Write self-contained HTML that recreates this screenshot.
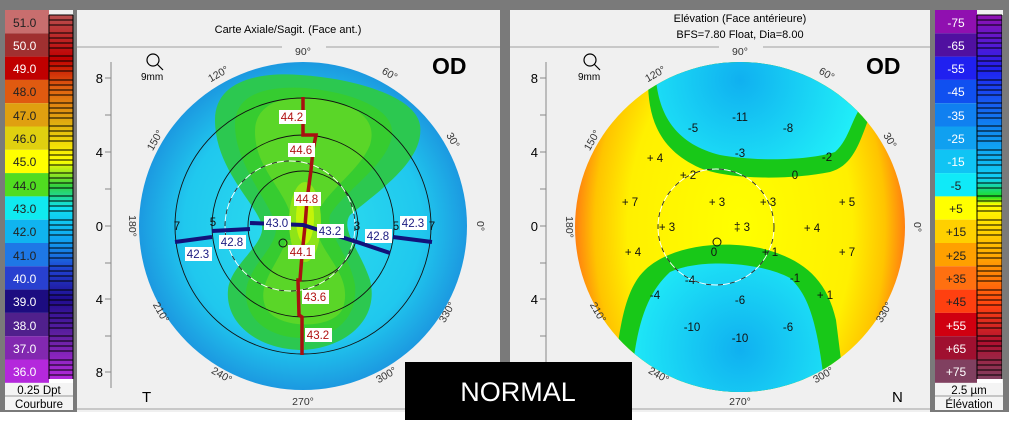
<!DOCTYPE html>
<html><head><meta charset="utf-8">
<style>
html,body{margin:0;padding:0;background:#fff;}
svg{display:block;font-family:"Liberation Sans",sans-serif;}
</style></head>
<body>
<svg width="1009" height="436" viewBox="0 0 1009 436" xmlns="http://www.w3.org/2000/svg">
<defs>
<radialGradient id="gb" cx="303" cy="226" r="165" gradientUnits="userSpaceOnUse">
<stop offset="0" stop-color="#2ee0ee"/><stop offset="0.72" stop-color="#20c8ee"/><stop offset="1" stop-color="#1c98e0"/>
</radialGradient>
<radialGradient id="gy" cx="740" cy="227" r="165" gradientUnits="userSpaceOnUse" gradientTransform="translate(740 227) scale(1 1.6) translate(-740 -227)">
<stop offset="0" stop-color="#ffff00"/><stop offset="0.68" stop-color="#fff000"/><stop offset="0.88" stop-color="#ffc400"/><stop offset="1" stop-color="#ff8010"/>
</radialGradient>
<radialGradient id="gc" cx="740" cy="80" r="120" gradientUnits="userSpaceOnUse">
<stop offset="0" stop-color="#10b0f0"/><stop offset="1" stop-color="#20eef8"/>
</radialGradient>
<radialGradient id="gc2" cx="740" cy="350" r="120" gradientUnits="userSpaceOnUse">
<stop offset="0" stop-color="#10b0f0"/><stop offset="1" stop-color="#20eef8"/>
</radialGradient>
<clipPath id="cl"><circle cx="303" cy="226" r="164"/></clipPath>
<clipPath id="cr"><circle cx="740" cy="227" r="165"/></clipPath>
<linearGradient id="lsg" x1="0" y1="15" x2="0" y2="379" gradientUnits="userSpaceOnUse">
<stop offset="0" stop-color="#b85050"/><stop offset="0.12" stop-color="#c00000"/><stop offset="0.2" stop-color="#e06010"/><stop offset="0.3" stop-color="#e0b010"/><stop offset="0.4" stop-color="#ffff00"/><stop offset="0.47" stop-color="#30d040"/><stop offset="0.53" stop-color="#10e0f0"/><stop offset="0.62" stop-color="#10a0f0"/><stop offset="0.7" stop-color="#2040d0"/><stop offset="0.78" stop-color="#200c90"/><stop offset="0.88" stop-color="#6020a0"/><stop offset="1" stop-color="#b428dc"/>
</linearGradient>
<linearGradient id="rsg" x1="0" y1="15" x2="0" y2="379" gradientUnits="userSpaceOnUse">
<stop offset="0" stop-color="#9010b0"/><stop offset="0.15" stop-color="#2020f0"/><stop offset="0.3" stop-color="#1080f0"/><stop offset="0.45" stop-color="#10d0f4"/><stop offset="0.5" stop-color="#20e020"/><stop offset="0.52" stop-color="#ffff00"/><stop offset="0.65" stop-color="#ffb000"/><stop offset="0.8" stop-color="#ff4010"/><stop offset="0.9" stop-color="#b01030"/><stop offset="1" stop-color="#804060"/>
</linearGradient>
</defs>

<rect x="0" y="0" width="1009" height="412" fill="#7a7a7a"/>
<rect x="0" y="412" width="1009" height="24" fill="#fff"/>
<rect x="77" y="10" width="423" height="402" fill="#f0f0f0"/>
<rect x="510" y="10" width="420" height="402" fill="#f0f0f0"/>
<line x1="77" y1="47" x2="500" y2="47" stroke="#a0a0a0"/>
<line x1="510" y1="47" x2="930" y2="47" stroke="#a0a0a0"/>
<line x1="77" y1="409" x2="500" y2="409" stroke="#a0a0a0"/>
<line x1="510" y1="409" x2="930" y2="409" stroke="#a0a0a0"/>

<!-- left scale -->
<rect x="5" y="10" width="68" height="400" fill="#f0f0f0"/>
<g font-size="12">
<rect x="5" y="10" width="44" height="23.3" fill="#c86e6e"/><text x="13" y="27" fill="#222">51.0</text>
<rect x="5" y="33.3" width="44" height="23.3" fill="#a03030"/><text x="13" y="50" fill="#fff">50.0</text>
<rect x="5" y="56.6" width="44" height="23.3" fill="#c00000"/><text x="13" y="73" fill="#fff">49.0</text>
<rect x="5" y="79.9" width="44" height="23.3" fill="#e05a10"/><text x="13" y="96" fill="#222">48.0</text>
<rect x="5" y="103.2" width="44" height="23.3" fill="#e0a010"/><text x="13" y="120" fill="#222">47.0</text>
<rect x="5" y="126.5" width="44" height="23.3" fill="#e0d010"/><text x="13" y="143" fill="#222">46.0</text>
<rect x="5" y="149.8" width="44" height="23.3" fill="#ffff00"/><text x="13" y="166" fill="#222">45.0</text>
<rect x="5" y="173.1" width="44" height="23.3" fill="#50dc20"/><text x="13" y="190" fill="#222">44.0</text>
<rect x="5" y="196.4" width="44" height="23.3" fill="#10eaf0"/><text x="13" y="213" fill="#222">43.0</text>
<rect x="5" y="219.7" width="44" height="23.3" fill="#10b4f0"/><text x="13" y="236" fill="#222">42.0</text>
<rect x="5" y="243" width="44" height="23.3" fill="#1e78e6"/><text x="13" y="260" fill="#222">41.0</text>
<rect x="5" y="266.3" width="44" height="23.3" fill="#2840d0"/><text x="13" y="283" fill="#fff">40.0</text>
<rect x="5" y="289.6" width="44" height="23.3" fill="#1c0c80"/><text x="13" y="306" fill="#fff">39.0</text>
<rect x="5" y="312.9" width="44" height="23.3" fill="#50208c"/><text x="13" y="330" fill="#fff">38.0</text>
<rect x="5" y="336.2" width="44" height="23.3" fill="#8228b0"/><text x="13" y="353" fill="#fff">37.0</text>
<rect x="5" y="359.5" width="44" height="23.3" fill="#b428dc"/><text x="13" y="376" fill="#fff">36.0</text>
</g>
<rect x="49" y="15" width="24" height="364" fill="url(#lsg)"/>
<g stroke="#000" stroke-width="1">
<path d="M49 15H73M49 20H73M49 25H73M49 33H73M49 38H73M49 43H73M49 48H73M49 56H73M49 61H73M49 66H73M49 71H73M49 80H73M49 85H73M49 90H73M49 95H73M49 103H73M49 108H73M49 113H73M49 118H73M49 126H73M49 131H73M49 136H73M49 141H73M49 150H73M49 155H73M49 160H73M49 165H73M49 173H73M49 178H73M49 183H73M49 188H73M49 196H73M49 201H73M49 206H73M49 211H73M49 220H73M49 225H73M49 230H73M49 235H73M49 243H73M49 248H73M49 253H73M49 258H73M49 266H73M49 271H73M49 276H73M49 281H73M49 290H73M49 295H73M49 300H73M49 305H73M49 313H73M49 318H73M49 323H73M49 328H73M49 336H73M49 341H73M49 346H73M49 351H73M49 360H73M49 365H73M49 370H73M49 375H73M49 15V379M73 15V379"/>
</g>
<rect x="49" y="379" width="24" height="4" fill="#fff"/>
<rect x="5" y="383" width="68" height="27" fill="#f4f4f4"/>
<line x1="5" y1="396" x2="73" y2="396" stroke="#999"/>
<text x="39" y="394" font-size="11.5" text-anchor="middle">0.25 Dpt</text>
<text x="39" y="408" font-size="11.5" text-anchor="middle">Courbure</text>

<!-- right scale -->
<rect x="935" y="10" width="68" height="400" fill="#f0f0f0"/>
<g font-size="12" text-anchor="middle">
<rect x="935" y="10" width="42" height="23.3" fill="#9010b0"/><text x="956" y="27" fill="#fff">-75</text>
<rect x="935" y="33.3" width="42" height="23.3" fill="#5010a0"/><text x="956" y="50" fill="#fff">-65</text>
<rect x="935" y="56.6" width="42" height="23.3" fill="#2020f0"/><text x="956" y="73" fill="#fff">-55</text>
<rect x="935" y="79.9" width="42" height="23.3" fill="#1050f0"/><text x="956" y="96" fill="#fff">-45</text>
<rect x="935" y="103.2" width="42" height="23.3" fill="#1080f0"/><text x="956" y="120" fill="#fff">-35</text>
<rect x="935" y="126.5" width="42" height="23.3" fill="#10a0f0"/><text x="956" y="143" fill="#fff">-25</text>
<rect x="935" y="149.8" width="42" height="23.3" fill="#10c4f4"/><text x="956" y="166" fill="#fff">-15</text>
<rect x="935" y="173.1" width="42" height="23.3" fill="#10eaf8"/><text x="956" y="190" fill="#222">-5</text>
<rect x="935" y="196.4" width="42" height="23.3" fill="#ffff00"/><text x="956" y="213" fill="#222">+5</text>
<rect x="935" y="219.7" width="42" height="23.3" fill="#ffd000"/><text x="956" y="236" fill="#222">+15</text>
<rect x="935" y="243" width="42" height="23.3" fill="#ffa000"/><text x="956" y="260" fill="#222">+25</text>
<rect x="935" y="266.3" width="42" height="23.3" fill="#ff7010"/><text x="956" y="283" fill="#222">+35</text>
<rect x="935" y="289.6" width="42" height="23.3" fill="#ff4010"/><text x="956" y="306" fill="#222">+45</text>
<rect x="935" y="312.9" width="42" height="23.3" fill="#d00010"/><text x="956" y="330" fill="#fff">+55</text>
<rect x="935" y="336.2" width="42" height="23.3" fill="#a01030"/><text x="956" y="353" fill="#fff">+65</text>
<rect x="935" y="359.5" width="42" height="23.3" fill="#804060"/><text x="956" y="376" fill="#fff">+75</text>
</g>
<rect x="977" y="15" width="25" height="364" fill="url(#rsg)"/>
<g stroke="#000" stroke-width="1" transform="translate(928 0)">
<path d="M49 15H74M49 20H74M49 25H74M49 33H74M49 38H74M49 43H74M49 48H74M49 56H74M49 61H74M49 66H74M49 71H74M49 80H74M49 85H74M49 90H74M49 95H74M49 103H74M49 108H74M49 113H74M49 118H74M49 126H74M49 131H74M49 136H74M49 141H74M49 150H74M49 155H74M49 160H74M49 165H74M49 173H74M49 178H74M49 183H74M49 188H74M49 196H74M49 201H74M49 206H74M49 211H74M49 220H74M49 225H74M49 230H74M49 235H74M49 243H74M49 248H74M49 253H74M49 258H74M49 266H74M49 271H74M49 276H74M49 281H74M49 290H74M49 295H74M49 300H74M49 305H74M49 313H74M49 318H74M49 323H74M49 328H74M49 336H74M49 341H74M49 346H74M49 351H74M49 360H74M49 365H74M49 370H74M49 375H74M49 15V379M74 15V379"/>
</g>
<rect x="977" y="379" width="25" height="4" fill="#fff"/>
<rect x="935" y="383" width="68" height="27" fill="#f4f4f4"/>
<line x1="935" y1="396" x2="1003" y2="396" stroke="#999"/>
<text x="969" y="394" font-size="11.5" text-anchor="middle">2.5 µm</text>
<text x="969" y="408" font-size="11.5" text-anchor="middle">Élévation</text>

<!-- titles -->
<text x="288" y="33" font-size="11" text-anchor="middle">Carte Axiale/Sagit. (Face ant.)</text>
<text x="740" y="22" font-size="11" text-anchor="middle">Elévation (Face antérieure)</text>
<text x="740" y="38" font-size="11" text-anchor="middle">BFS=7.80 Float, Dia=8.00</text>
<rect x="282" y="42" width="44" height="10" fill="#f0f0f0"/>
<rect x="719" y="42" width="44" height="10" fill="#f0f0f0"/>
<text x="432" y="74" font-size="23" font-weight="bold">OD</text>
<text x="866" y="74" font-size="23" font-weight="bold">OD</text>
<text x="142" y="402" font-size="15">T</text>
<text x="892" y="402" font-size="15">N</text>
<g fill="none" stroke="#000" stroke-width="1.2">
<circle cx="153" cy="60" r="6"/><line x1="157" y1="64" x2="163" y2="70"/>
<circle cx="590" cy="60" r="6"/><line x1="594" y1="64" x2="600" y2="70"/>
</g>
<text x="141" y="80" font-size="10">9mm</text>
<text x="578" y="80" font-size="10">9mm</text>
<line x1="111" y1="62" x2="111" y2="388" stroke="#888"/>
<g stroke="#888"><path d="M105 78H111M105 115H111M105 152H111M105 189H111M105 226H111M105 263H111M105 299H111M105 336H111M105 372H111"/></g>
<g font-size="13" text-anchor="end"><text x="103" y="83">8</text><text x="103" y="157">4</text><text x="103" y="231">0</text><text x="103" y="304">4</text><text x="103" y="377">8</text></g>
<line x1="546" y1="62" x2="546" y2="388" stroke="#888"/>
<g stroke="#888"><path d="M540 78H546M540 115H546M540 152H546M540 189H546M540 226H546M540 263H546M540 299H546M540 336H546M540 372H546"/></g>
<g font-size="13" text-anchor="end"><text x="538" y="83">8</text><text x="538" y="157">4</text><text x="538" y="231">0</text><text x="538" y="304">4</text><text x="538" y="377">8</text></g>

<!-- LEFT MAP -->
<circle cx="303" cy="226" r="164" fill="url(#gb)"/>
<g clip-path="url(#cl)">
<path d="M215 120 C215 80 260 72 300 75 C350 78 415 95 420 125 C425 160 380 190 350 215 C340 230 360 250 370 280 C380 320 345 348 303 350 C260 350 225 325 228 290 C230 265 265 245 262 226 C258 205 215 170 215 120 Z" fill="#2cc850"/>
<path d="M235 125 C235 92 270 86 305 88 C350 92 395 108 392 135 C388 165 345 190 330 215 C325 232 350 255 355 285 C358 318 335 338 303 338 C270 338 245 320 246 292 C248 265 278 248 276 226 C272 205 235 165 235 125 Z" fill="#36cc30"/>
<path d="M255 132 C255 100 290 95 318 98 C355 104 378 118 370 145 C360 170 328 190 318 212 L290 212 C280 185 255 165 255 132 Z" fill="#5ad628"/>
<path d="M286 240 L320 240 C330 262 352 280 343 308 C334 330 278 330 266 308 C255 285 280 262 286 240 Z" fill="#5ad628"/>
<ellipse cx="305" cy="222" rx="16" ry="40" fill="#8ee418"/>
<ellipse cx="305" cy="218" rx="9" ry="26" fill="#c4f408"/>
</g>
<g fill="none" stroke="#111" stroke-width="0.9">
<circle cx="303" cy="226" r="128"/><circle cx="303" cy="226" r="91"/><circle cx="303" cy="226" r="55"/>
</g>
<circle cx="290" cy="226" r="65" fill="none" stroke="#fff" stroke-width="0.9"/>
<circle cx="290" cy="226" r="65" fill="none" stroke="#222" stroke-width="0.9" stroke-dasharray="5 7"/>
<circle cx="283" cy="243" r="4" fill="none" stroke="#111"/>
<path d="M303 97 L303 135 L316 135 L313 150 L311 170 L307 200 L305 226 L302 255 L300 280 L298 280 L299 315 L302 317 L302 355" fill="none" stroke="#a81010" stroke-width="3.5"/>
<g stroke="#12127a" stroke-width="4" fill="none">
<path d="M175 242 L212 237"/><path d="M212 231 L250 229"/><path d="M250 223 L303 225 L357 242 L390 253"/><path d="M393 237 L432 242"/>
</g>
<g font-size="11.5" text-anchor="middle">
<g fill="#fff"><rect x="279" y="110" width="27" height="14"/><rect x="288" y="143" width="27" height="14"/><rect x="294" y="192" width="27" height="14"/><rect x="288" y="245" width="27" height="14"/><rect x="302" y="290" width="27" height="14"/><rect x="305" y="328" width="27" height="14"/>
<rect x="264" y="216" width="27" height="14"/><rect x="317" y="224" width="27" height="14"/><rect x="365" y="229" width="27" height="14"/><rect x="400" y="216" width="27" height="14"/><rect x="219" y="235" width="27" height="14"/><rect x="185" y="247" width="27" height="14"/></g>
<g fill="#b01010"><text x="292" y="121">44.2</text><text x="301" y="154">44.6</text><text x="307" y="203">44.8</text><text x="301" y="256">44.1</text><text x="315" y="301">43.6</text><text x="318" y="339">43.2</text></g>
<g fill="#1a1a80"><text x="277" y="227">43.0</text><text x="330" y="235">43.2</text><text x="378" y="240">42.8</text><text x="413" y="227">42.3</text><text x="232" y="246">42.8</text><text x="198" y="258">42.3</text></g>
<g fill="#111"><text x="177" y="230">7</text><text x="213" y="226">5</text><text x="357" y="230">3</text><text x="396" y="230">5</text><text x="432" y="230">7</text></g>
</g>

<!-- RIGHT MAP -->
<circle cx="740" cy="227" r="165" fill="url(#gy)"/>
<g clip-path="url(#cr)">
<path d="M648 80 C648 120 660 150 700 168 C730 180 790 180 830 172 C855 165 860 140 872 110 L872 40 L640 40 Z" fill="#18c818"/>
<path d="M656 80 C660 120 680 145 720 155 C760 162 810 160 835 152 C848 140 850 125 860 108 L860 40 L650 40 Z" fill="url(#gc)"/>
<path d="M612 400 C618 330 624 290 645 270 C670 246 720 240 760 248 C800 258 826 276 836 320 L846 400 Z" fill="#18c818"/>
<path d="M630 400 C634 330 645 295 670 272 C700 258 760 262 790 278 C808 295 818 320 826 400 Z" fill="url(#gc2)"/>
</g>
<circle cx="716" cy="227" r="58" fill="none" stroke="#fff" stroke-width="0.9"/>
<circle cx="716" cy="227" r="58" fill="none" stroke="#222" stroke-width="0.9" stroke-dasharray="5 7"/>
<circle cx="717" cy="242" r="4" fill="none" stroke="#111"/>
<g font-size="11.5" text-anchor="middle" fill="#111">
<text x="740" y="121">-11</text><text x="693" y="132">-5</text><text x="788" y="132">-8</text><text x="740" y="157">-3</text><text x="827" y="161">-2</text><text x="795" y="179">0</text>
<text x="655" y="162">+ 4</text><text x="688" y="179">+ 2</text><text x="630" y="206">+ 7</text><text x="717" y="206">+ 3</text><text x="768" y="206">+ 3</text><text x="847" y="206">+ 5</text>
<text x="667" y="231">+ 3</text><text x="742" y="231">‡ 3</text><text x="812" y="232">+ 4</text><text x="633" y="256">+ 4</text><text x="714" y="256">0</text><text x="770" y="256">+ 1</text><text x="847" y="256">+ 7</text>
<text x="690" y="284">-4</text><text x="795" y="282">-1</text><text x="655" y="299">-4</text><text x="740" y="304">-6</text><text x="825" y="299">+ 1</text>
<text x="692" y="331">-10</text><text x="788" y="331">-6</text><text x="740" y="342">-10</text>
</g>

<g font-size="10.5" fill="#333" text-anchor="middle">
<text x="303" y="55">90°</text><text x="303" y="405">270°</text>
<text x="740" y="55">90°</text><text x="740" y="405">270°</text>
<text transform="translate(220 77) rotate(-30)">120°</text><text transform="translate(388 77) rotate(30)">60°</text>
<text transform="translate(158 142) rotate(-60)">150°</text><text transform="translate(450 142) rotate(60)">30°</text>
<text transform="translate(129 226) rotate(90)">180°</text><text transform="translate(477 226) rotate(90)">0°</text>
<text transform="translate(158 314) rotate(60)">210°</text><text transform="translate(450 314) rotate(-60)">330°</text>
<text transform="translate(220 378) rotate(30)">240°</text><text transform="translate(388 378) rotate(-30)">300°</text>
<text transform="translate(657 77) rotate(-30)">120°</text><text transform="translate(825 77) rotate(30)">60°</text>
<text transform="translate(595 142) rotate(-60)">150°</text><text transform="translate(887 142) rotate(60)">30°</text>
<text transform="translate(566 227) rotate(90)">180°</text><text transform="translate(914 227) rotate(90)">0°</text>
<text transform="translate(595 314) rotate(60)">210°</text><text transform="translate(887 314) rotate(-60)">330°</text>
<text transform="translate(657 378) rotate(30)">240°</text><text transform="translate(825 378) rotate(-30)">300°</text>
</g>

<rect x="405" y="362" width="227" height="58" fill="#000"/>
<text x="518" y="401" font-size="27" fill="#fff" text-anchor="middle">NORMAL</text>
</svg>
</body></html>
